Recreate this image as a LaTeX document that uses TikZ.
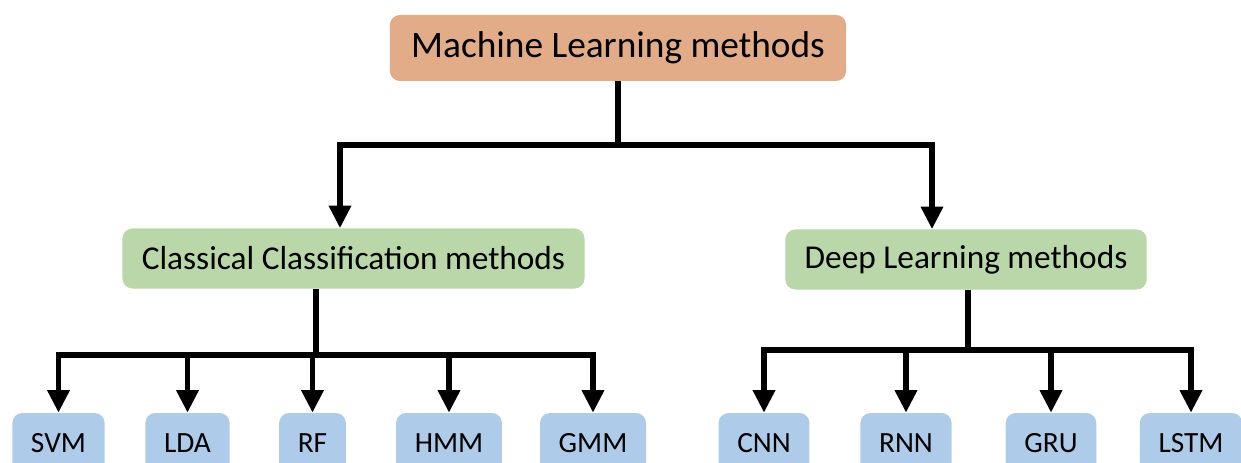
\documentclass[tikz,border=0pt]{standalone}
\usepackage{fontspec}
\setmainfont{Carlito}
\usetikzlibrary{arrows.meta}
\definecolor{rootfill}{HTML}{E3AC89}
\definecolor{groupfill}{HTML}{B9D7A8}
\definecolor{leaffill}{HTML}{AECCEA}
\tikzset{
	box/.style={rounded corners=7.5pt, inner ysep=0pt, text=black},
	rootbox/.style={box, fill=rootfill, inner xsep=16pt, minimum height=49.5pt, font=\fontsize{28}{30}\selectfont},
	groupbox/.style={box, fill=groupfill, inner xsep=14.5pt, minimum height=45pt, font=\fontsize{25}{27}\selectfont},
	leafbox/.style={box, fill=leaffill, inner xsep=14pt, minimum height=45pt, font=\fontsize{22}{24}\selectfont},
	link/.style={line width=4.4pt},
	arr/.style={link, -{Triangle[length=17pt,width=16pt]}},
}
\begin{document}
\begin{tikzpicture}[x=0.75pt,y=-0.75pt]
	\useasboundingbox (0,0) rectangle (1241,463);
	\clip (0,0) rectangle (1241,463);
	\node[rootbox]  (ml)  at (618,  48)   {Machine Learning methods};
	\node[groupbox] (ccm) at (353.5,258.5) {Classical Classification methods};
	\node[groupbox] (dlm) at (966, 259.5) {Deep Learning methods};
	
	\def\leaves {svm/58.5/SVM, lda/187.5/LDA, rf/312.5/RF, hmm/449/HMM, gmm/593/GMM,
	cnn/764/CNN, rnn/906/RNN, gru/1051/GRU, lstm/1191/LSTM}  % list elements
	\foreach \n/\x/\t in \leaves
	{	\node[leafbox] (\n) at (\x,443) {\t};
	}
	
	% junctions of the tree
	\coordinate (j0) at (618,145);
	\coordinate (c1) at (340,145);
	\coordinate (c2) at (932,145);
	\coordinate (j1) at (316,355);
	\coordinate (j2) at (968,350);
	
	\draw[link] (ml.south) -- (j0);
	\draw[arr] (j0) -- (c1) -- (c1 |- ccm.north);
	\draw[arr] (j0) -- (c2) -- (c2 |- dlm.north);
	
	\draw[link] (ccm.south -| j1) -- (j1);
	\foreach \leaf in {svm, lda, rf, hmm, gmm}
	{	\draw[arr] (j1) -| (\leaf.north);
	}
	\draw[link] (dlm.south -| j2) -- (j2);
	\foreach \leaf in {cnn, rnn, gru, lstm}
	{	\draw[arr] (j2) -| (\leaf.north);
	}
\end{tikzpicture}
\end{document}
